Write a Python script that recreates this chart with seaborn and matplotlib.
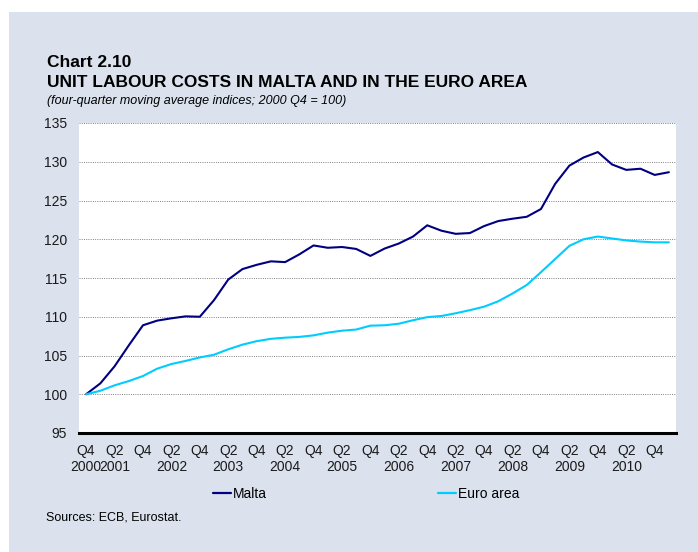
import numpy as np
import pandas as pd
import matplotlib
matplotlib.use("Agg")
import matplotlib.pyplot as plt
from matplotlib.patches import Rectangle
from matplotlib.lines import Line2D
import seaborn as sns

# quarters 2000 Q4 .. 2011 Q1
quarters = ["2000Q4"] + [f"{y}Q{q}" for y in range(2001, 2011) for q in range(1, 5)] + ["2011Q1"]

malta = [100.0, 101.4, 103.6, 106.3, 108.9, 109.5, 109.8, 110.05, 110.0, 112.15,
         114.8, 116.15, 116.7, 117.15, 117.05, 118.05, 119.2, 118.9, 119.0, 118.75,
         117.85, 118.8, 119.45, 120.35, 121.8, 121.1, 120.7, 120.8, 121.7, 122.35,
         122.65, 122.9, 123.9, 127.15, 129.5, 130.55, 131.25, 129.65, 128.95, 129.1,
         128.3, 128.65]

euro_area = [100.0, 100.45, 101.15, 101.7, 102.35, 103.3, 103.9, 104.3, 104.75, 105.1,
             105.8, 106.4, 106.85, 107.15, 107.3, 107.4, 107.6, 107.95, 108.2, 108.35,
             108.85, 108.9, 109.1, 109.55, 109.95, 110.1, 110.45, 110.85, 111.3, 112.0,
             113.0, 114.1, 115.75, 117.45, 119.15, 120.0, 120.35, 120.1, 119.85, 119.7,
             119.6, 119.6]

tick_labels = ["Q4\n2000", "Q2\n2001", "Q4", "Q2\n2002", "Q4", "Q2\n2003", "Q4",
               "Q2\n2004", "Q4", "Q2\n2005", "Q4", "Q2\n2006", "Q4", "Q2\n2007", "Q4",
               "Q2\n2008", "Q4", "Q2\n2009", "Q4", "Q2\n2010", "Q4"]

series_names = ["Malta", "Euro area"]
colors = ["#000080", "#00CCFF"]

df = pd.DataFrame({"idx": np.arange(len(quarters)), "Malta": malta, "Euro area": euro_area})
long = df.melt(id_vars="idx", var_name="series", value_name="value")

sns.set_style("white")
plt.rcParams["font.family"] = ["Liberation Sans", "DejaVu Sans"]
plt.rcParams["text.color"] = "black"

W, H = 698, 552
fig = plt.figure(figsize=(W / 100, H / 100), dpi=100)
fig.patch.set_facecolor("white")
bg = Rectangle((9 / W, 0), 1 - 9 / W, (H - 12) / H, transform=fig.transFigure,
               facecolor="#dbe2ee", edgecolor="none", zorder=-10)
fig.patches.append(bg)

ax = fig.add_axes([79 / W, (H - 433) / H, (676 - 79) / W, (433 - 123) / H])
ax.set_facecolor("white")
ax.set_zorder(1)

sns.lineplot(data=long, x="idx", y="value", hue="series", hue_order=series_names,
             palette=colors, linewidth=1.5, ax=ax, legend=False)

ax.set_xlim(-0.5, len(quarters) - 0.5)
ax.set_ylim(95, 135)
ax.set_yticks(range(95, 136, 5))
ax.set_xticks(range(0, 41, 2))
ax.set_xticklabels(tick_labels, linespacing=1.15)
ax.tick_params(axis="both", length=0, labelsize=10, colors="#1a1a1a")
ax.tick_params(axis="x", pad=8)
ax.tick_params(axis="y", pad=8.5)
ax.set_xlabel("")
ax.set_ylabel("")

ax.yaxis.grid(True, linestyle=(0, (1, 1.3)), color="#808080", linewidth=0.7)
ax.xaxis.grid(False)
for side in ["top", "left", "right"]:
    ax.spines[side].set_visible(False)
ax.spines["bottom"].set_color("black")
ax.spines["bottom"].set_linewidth(2.2)
ax.spines["bottom"].set_zorder(5)

fig.text(47 / W, 1 - 67 / H, "Chart 2.10", fontsize=12.5, fontweight="bold", va="baseline")
fig.text(47 / W, 1 - 87 / H, "UNIT LABOUR COSTS IN MALTA AND IN THE EURO AREA",
         fontsize=12.5, fontweight="bold", va="baseline")
fig.text(47 / W, 1 - 104 / H, "(four-quarter moving average indices; 2000 Q4 = 100)",
         fontsize=9, style="italic", va="baseline")
fig.text(46 / W, 1 - 521 / H, "Sources: ECB, Eurostat.", fontsize=9, va="baseline")

handles = [Line2D([0], [0], color=c, linewidth=1.6) for c in colors]
ax.legend(handles, series_names, loc="center left", bbox_to_anchor=(213 / W, 1 - 494 / H),
          bbox_transform=fig.transFigure, ncol=2, frameon=False, fontsize=10,
          handlelength=1.3, handletextpad=0.15, columnspacing=12.3,
          borderpad=0, borderaxespad=0)

fig.savefig("out.png", dpi=100, facecolor=fig.get_facecolor())
